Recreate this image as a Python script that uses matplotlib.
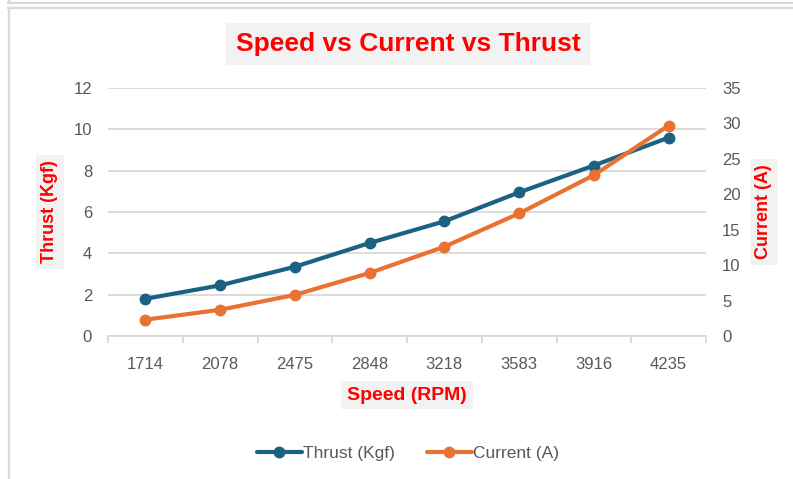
import matplotlib
matplotlib.use("Agg")
import matplotlib.pyplot as plt
from matplotlib.lines import Line2D

# data
speed_rpm = ["1714", "2078", "2475", "2848", "3218", "3583", "3916", "4235"]
thrust_kgf = [1.8, 2.45, 3.35, 4.5, 5.55, 6.95, 8.25, 9.6]
current_a = [2.3, 3.7, 5.8, 8.9, 12.6, 17.3, 22.7, 29.7]

left_ticks = [0, 2, 4, 6, 8, 10, 12]
right_ticks = [0, 5, 10, 15, 20, 25, 30, 35]

BLUE = "#1B6184"
ORANGE = "#E97132"
GRID = "#D9D9D9"
TXT = "#595959"
RED = "#FF0000"
BOX = "#F2F2F2"
W, H, DPI = 793, 479, 100

plt.rcParams["font.family"] = ["Liberation Sans", "DejaVu Sans"]

fig = plt.figure(figsize=(W / DPI, H / DPI), dpi=DPI, facecolor="white")


def px(x0, y0, x1, y1):
    # pixel box (top-left origin) -> figure fraction rect
    return [x0 / W, 1 - y1 / H, (x1 - x0) / W, (y1 - y0) / H]


# chart frame lines
fig.add_artist(Line2D([8 / W, 1], [1 - 3 / H, 1 - 3 / H], color=GRID, lw=1.6))
fig.add_artist(Line2D([8 / W, 1], [1 - 8 / H, 1 - 8 / H], color=GRID, lw=1.6))
fig.add_artist(Line2D([8.5 / W, 8.5 / W], [0, 1 - 8 / H], color=GRID, lw=1.6))
fig.add_artist(Line2D([8.5 / W, 8.5 / W], [1 - 3 / H, 1], color=GRID, lw=1.6))

ax = fig.add_axes(px(108, 88, 706, 336))
ax2 = ax.twinx()

x = list(range(len(speed_rpm)))
ax.plot(x, thrust_kgf, color=BLUE, lw=3, marker="o", ms=7.5, zorder=3,
        solid_capstyle="round", label="Thrust (Kgf)")
ax2.plot(x, current_a, color=ORANGE, lw=3, marker="o", ms=7.5, zorder=3,
         solid_capstyle="round", label="Current (A)")

ax.set_xlim(-0.5, len(speed_rpm) - 0.5)
ax.set_ylim(0, 12)
ax2.set_ylim(0, 35)
ax.set_yticks(left_ticks)
ax2.set_yticks(right_ticks)
ax.set_xticks(x)
ax.set_xticklabels(speed_rpm)
ax.set_xticks([i - 0.5 for i in range(len(speed_rpm) + 1)], minor=True)

ax.grid(axis="y", color=GRID, lw=1.3)
ax.set_axisbelow(True)
for a in (ax, ax2):
    for s in a.spines.values():
        s.set_visible(False)
ax.spines["bottom"].set_visible(True)
ax.spines["bottom"].set_color(GRID)
ax.spines["bottom"].set_linewidth(1.3)

ax.tick_params(axis="x", which="major", length=0, pad=15, labelsize=12, labelcolor=TXT)
ax.tick_params(axis="x", which="minor", length=5, width=1.3, color=GRID)
ax.tick_params(axis="y", length=0, pad=11.5, labelsize=12, labelcolor=TXT)
ax2.tick_params(axis="y", length=0, pad=11.5, labelsize=12, labelcolor=TXT)

# title and axis titles with grey boxes
fig.text(408 / W, 1 - 44 / H, "Speed vs Current vs Thrust", ha="center", va="center",
         color=RED, fontsize=19, fontweight="bold",
         bbox=dict(boxstyle="square,pad=0.35", fc=BOX, ec="none"))
fig.text(407 / W, 1 - 395 / H, "Speed (RPM)", ha="center", va="center",
         color=RED, fontsize=14, fontweight="bold",
         bbox=dict(boxstyle="square,pad=0.3", fc=BOX, ec="none"))
fig.text(50 / W, 1 - 212 / H, "Thrust (Kgf)", ha="center", va="center", rotation=90,
         color=RED, fontsize=13, fontweight="bold",
         bbox=dict(boxstyle="square,pad=0.3", fc=BOX, ec="none"))
fig.text(764 / W, 1 - 212 / H, "Current (A)", ha="center", va="center", rotation=90,
         color=RED, fontsize=13, fontweight="bold",
         bbox=dict(boxstyle="square,pad=0.3", fc=BOX, ec="none"))

h1, l1 = ax.get_legend_handles_labels()
h2, l2 = ax2.get_legend_handles_labels()
fig.legend(h1 + h2, l1 + l2, loc="center", bbox_to_anchor=(408 / W, 1 - 453 / H),
           ncol=2, frameon=False, fontsize=12.5, labelcolor=TXT, handlelength=2.6,
           handletextpad=0.1, columnspacing=1.8)

fig.savefig("out.png", dpi=DPI, facecolor="white")
